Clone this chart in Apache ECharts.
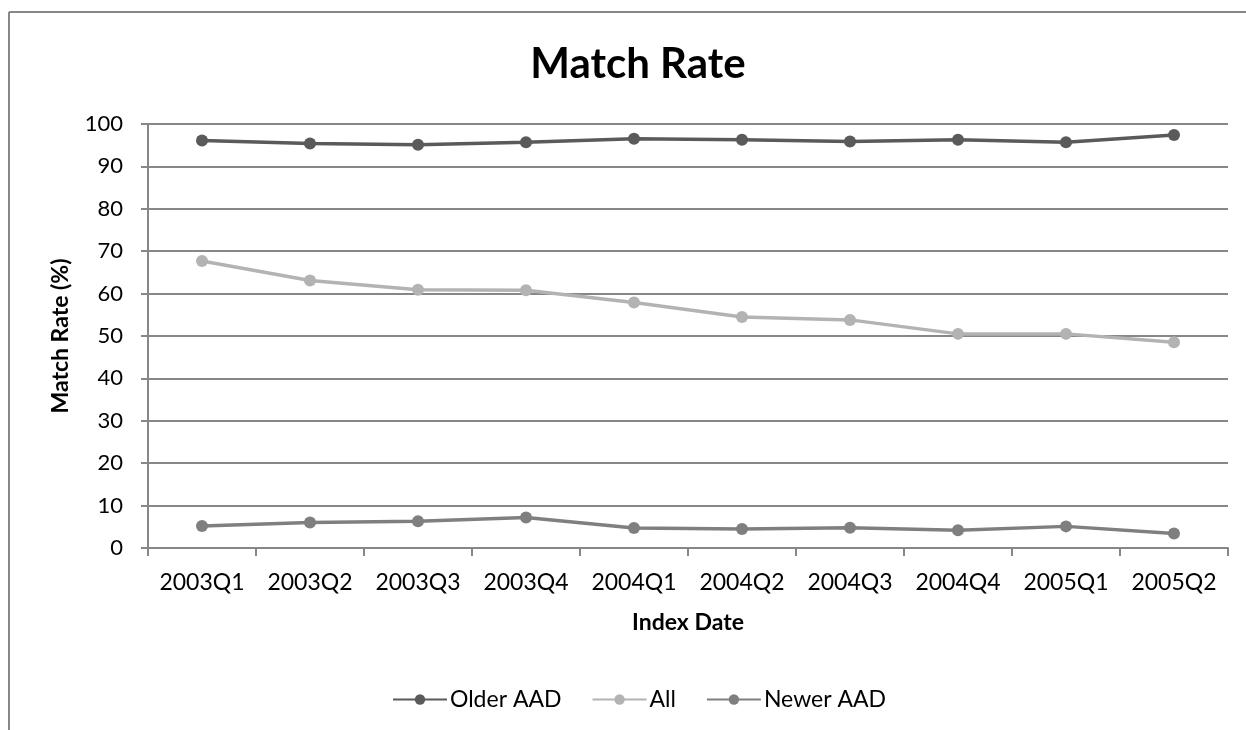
<!DOCTYPE html>
<html><head><meta charset="utf-8">
<script src="https://cdn.jsdelivr.net/npm/echarts@6/dist/echarts.min.js"></script>
<style>html,body{margin:0;padding:0;background:#fff}#c{width:1246px;height:730px}</style>
</head><body><div id="c"></div>
<script>
var categories = ['2003Q1','2003Q2','2003Q3','2003Q4','2004Q1','2004Q2','2004Q3','2004Q4','2005Q1','2005Q2'];
var olderAAD = [96.1, 95.4, 95.1, 95.7, 96.5, 96.3, 95.9, 96.3, 95.7, 97.4];
var allRate = [67.7, 63.1, 60.9, 60.8, 57.9, 54.5, 53.8, 50.5, 50.5, 48.5];
var newerAAD = [5.2, 6.0, 6.3, 7.2, 4.7, 4.5, 4.8, 4.2, 5.1, 3.4];
var FONT = 'Lato, "Open Sans", sans-serif';
var grid = '#878787';
function mk(name, data, color) {
  return {name: name, type: 'line', data: data, symbol: 'circle', symbolSize: 12,
    lineStyle: {color: color, width: 3.5}, itemStyle: {color: color}};
}
var chart = echarts.init(document.getElementById('c'));
chart.setOption({
  animation: false,
  textStyle: {fontFamily: FONT},
  title: {text: 'Match Rate', left: 633, textAlign: 'center', top: 38,
    textStyle: {fontFamily: FONT, fontSize: 42, fontWeight: 'bold', color: '#000'}},
  grid: {left: 148, right: 18, top: 124, bottom: 182},
  legend: {left: 387, top: 683, itemWidth: 54, itemHeight: 13, itemGap: 30,
    textStyle: {fontFamily: FONT, fontSize: 23, color: '#000', padding: [0,0,0,-2]},
    data: ['Older AAD', 'All', 'Newer AAD']},
  xAxis: {type: 'category', data: categories, boundaryGap: true,
    name: 'Index Date', nameLocation: 'middle', nameGap: 63,
    nameTextStyle: {fontFamily: FONT, fontSize: 23, fontWeight: 'bold', color: '#000'},
    axisLine: {lineStyle: {color: grid, width: 2}},
    axisTick: {show: true, interval: 0, length: 8, lineStyle: {color: grid, width: 2}},
    axisLabel: {interval: 0, margin: 23, fontSize: 23, color: '#000', fontFamily: FONT}},
  yAxis: {type: 'value', min: 0, max: 100, interval: 10,
    name: 'Match Rate (%)', nameLocation: 'middle', nameGap: 76,
    nameTextStyle: {fontFamily: FONT, fontSize: 23, fontWeight: 'bold', color: '#000'},
    axisLine: {show: true, lineStyle: {color: grid, width: 2}},
    axisTick: {show: true, length: 7, lineStyle: {color: grid, width: 2}},
    axisLabel: {margin: 25, fontSize: 22, color: '#000', fontFamily: FONT},
    splitLine: {lineStyle: {color: grid, width: 2}}},
  graphic: [
    {type: 'line', shape: {x1: 9, y1: 12, x2: 1246, y2: 12}, style: {stroke: grid, lineWidth: 2}},
    {type: 'line', shape: {x1: 9, y1: 12, x2: 9, y2: 730}, style: {stroke: grid, lineWidth: 2}}
  ],
  series: [
    mk('Older AAD', olderAAD, '#5a5a5a'),
    mk('All', allRate, '#b3b3b3'),
    mk('Newer AAD', newerAAD, '#7f7f7f')
  ]
});
</script></body></html>
